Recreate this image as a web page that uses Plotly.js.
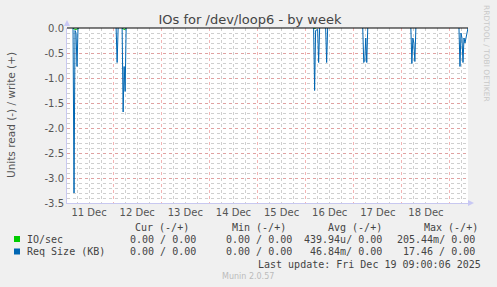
<!DOCTYPE html>
<html>
<head>
<meta charset="utf-8">
<script src="https://cdn.plot.ly/plotly-3.0.1.min.js"></script>
<style>
  html, body { margin: 0; padding: 0; background: #f0f0f0; }
  #chart { width: 497px; height: 287px; }
</style>
</head>
<body>
<div id="chart"></div>
<script>
// ---- data (null = gap between activity bursts) ----
const reqTimes = [
  '2025-12-11 04:00', '2025-12-11 04:30', '2025-12-11 05:00', '2025-12-11 05:30', '2025-12-11 06:00', '2025-12-11 06:30', null,
  '2025-12-12 01:30', '2025-12-12 02:00', '2025-12-12 02:30', null,
  '2025-12-12 04:30', '2025-12-12 05:00', '2025-12-12 05:30', '2025-12-12 06:00', '2025-12-12 06:30', null,
  '2025-12-16 04:00', '2025-12-16 04:30', '2025-12-16 05:00', '2025-12-16 05:30', '2025-12-16 06:00', '2025-12-16 06:30', '2025-12-16 07:00', null,
  '2025-12-16 10:00', '2025-12-16 10:30', '2025-12-16 11:00', null,
  '2025-12-17 04:30', '2025-12-17 05:00', '2025-12-17 05:30', '2025-12-17 06:00', '2025-12-17 06:30', '2025-12-17 07:00', null,
  '2025-12-18 04:30', '2025-12-18 05:00', '2025-12-18 05:30', '2025-12-18 06:00', '2025-12-18 06:30', '2025-12-18 07:00', null,
  '2025-12-19 04:30', '2025-12-19 05:00', '2025-12-19 05:30', '2025-12-19 06:00', '2025-12-19 06:30', '2025-12-19 07:00',
  '2025-12-19 07:30', '2025-12-19 08:00', '2025-12-19 08:30', '2025-12-19 09:00'
];
const reqValues = [
  0, -3.3, -0.05, -0.1, -0.77, 0, null,
  0, -0.69, 0, null,
  0, -1.68, -0.77, -1.27, 0, null,
  0, -1.25, -0.05, -0.03, -0.03, -0.69, 0, null,
  0, -0.69, 0, null,
  0, -0.69, -0.67, -0.2, -0.69, 0, null,
  0, -0.71, -0.2, -0.3, -0.67, 0, null,
  0, -0.77, -0.1, -0.2, -0.69, -0.2,
  -0.3, -0.2, -0.05, 0
];
const ioTimes = [
  '2025-12-11 04:00', '2025-12-11 04:30', '2025-12-11 05:30', '2025-12-11 06:30', '2025-12-11 07:00', null,
  '2025-12-12 04:30', '2025-12-12 05:00', '2025-12-12 06:00', '2025-12-12 06:30', null,
  '2025-12-16 04:00', '2025-12-16 04:30', '2025-12-16 05:00'
];
const ioValues = [
  0, -0.02, -0.03, -0.02, 0, null,
  0, -0.02, -0.03, 0, null,
  0, -0.02, 0
];
const yTickVals = [0, -0.5, -1.0, -1.5, -2.0, -2.5, -3.0, -3.5];
const yTickText = ['0.0', '-0.5', '-1.0', '-1.5', '-2.0', '-2.5', '-3.0', '-3.5'];
const seriesNames = ['IO/sec', 'Req Size (KB)'];
const seriesColors = ['#00cc00', '#0066b3'];
const colHeaders = ['Cur (-/+)', 'Min (-/+)', 'Avg (-/+)', 'Max (-/+)'];
const ioStats = ['0.00 / 0.00', '0.00 / 0.00', '439.94u/ 0.00', '205.44m/ 0.00'];
const reqStats = ['0.00 / 0.00', '0.00 / 0.00', '46.84m/ 0.00', '17.46 / 0.00'];
const lastUpdate = 'Last update: Fri Dec 19 09:00:06 2025';
const xStart = '2025-12-11 01:00';
const xEnd = '2025-12-19 09:00';

// ---- layout helpers (pixel -> paper) ----
const L = 67, R = 468, T = 28, B = 203;
const px = x => (x - L) / (R - L);
const py = y => (B - y) / (B - T);

const mono = { family: 'DejaVu Sans Mono, monospace', size: 10, color: '#444' };
const ann = [];
function txt(x, y, text, anchor, font, extra) {
  ann.push(Object.assign({ xref: 'paper', yref: 'paper', x: px(x), y: py(y), text: text,
    showarrow: false, xanchor: anchor, yanchor: 'middle', font: font, borderpad: 0 }, extra || {}));
}
const headX = [134, 231, 327, 423];
colHeaders.forEach((h, i) => txt(headX[i], 227, h, 'left', mono));
const valRight = [197, 293, 383, 476];
[ioStats, reqStats].forEach((row, r) => {
  const y = r === 0 ? 239 : 251.5;
  txt(26, y, seriesNames[r], 'left', mono);
  row.forEach((v, i) => txt(valRight[i], y, v, 'right', mono));
});
txt(482, 264, lastUpdate, 'right', mono);
txt(248, 276, 'Munin 2.0.57', 'center', { family: 'DejaVu Sans, sans-serif', size: 8, color: '#bbb' });
txt(487, 53, 'RRDTOOL / TOBI OETIKER', 'center', { family: 'DejaVu Sans, sans-serif', size: 7.5, color: '#c8c8c8' }, { textangle: 90 });
txt(11, 115, 'Units read (-) / write (+)', 'center', { family: 'DejaVu Sans, sans-serif', size: 10.5, color: '#555' }, { textangle: -90 });

const shapes = [
  { type: 'line', xref: 'paper', yref: 'paper', x0: 0, x1: 1, y0: 1, y1: 1, line: { color: '#000', width: 1 }, layer: 'above' },
  { type: 'rect', xref: 'paper', yref: 'paper', x0: px(14), x1: px(20), y0: py(236), y1: py(242), fillcolor: seriesColors[0], line: { width: 0 } },
  { type: 'rect', xref: 'paper', yref: 'paper', x0: px(14), x1: px(20), y0: py(248.5), y1: py(254.5), fillcolor: seriesColors[1], line: { width: 0 } },
  { type: 'path', xref: 'paper', yref: 'paper',
    path: `M ${px(64)} ${py(26)} L ${px(70)} ${py(26)} L ${px(67)} ${py(20)} Z`, fillcolor: '#c8c8f4', line: { width: 0 } },
  { type: 'path', xref: 'paper', yref: 'paper',
    path: `M ${px(468)} ${py(200)} L ${px(468)} ${py(206)} L ${px(474)} ${py(203)} Z`, fillcolor: '#c8c8f4', line: { width: 0 } }
];

const traces = [
  { x: ioTimes, y: ioValues, type: 'scatter', mode: 'lines', name: seriesNames[0], connectgaps: false,
    line: { color: seriesColors[0], width: 1 }, hoverinfo: 'skip' },
  { x: reqTimes, y: reqValues, type: 'scatter', mode: 'lines', name: seriesNames[1], connectgaps: false,
    line: { color: seriesColors[1], width: 1 }, hoverinfo: 'skip' }
];

const majorGrid = 'rgba(235,130,130,0.6)';
const minorGrid = '#cfcfcf';
const layout = {
  width: 497, height: 287,
  paper_bgcolor: '#f0f0f0', plot_bgcolor: '#ffffff',
  margin: { l: L, r: 497 - R, t: T, b: 287 - B, pad: 0 },
  showlegend: false,
  title: { text: 'IOs for /dev/loop6 - by week', x: 250 / 497, xanchor: 'center', y: 1 - 19 / 287, yanchor: 'middle',
    font: { family: 'DejaVu Sans, sans-serif', size: 13, color: '#444' } },
  xaxis: {
    type: 'date', range: [xStart, xEnd], fixedrange: true,
    tick0: '2025-12-11 00:00', dtick: 86400000, ticklabelmode: 'period', tickformat: '%-d %b',
    showgrid: true, gridcolor: majorGrid, griddash: 'dot', gridwidth: 1,
    ticks: '', showline: true, linecolor: '#c8c8f0', linewidth: 1, zeroline: false,
    tickfont: { family: 'DejaVu Sans, sans-serif', size: 10, color: '#555' },
    minor: { dtick: 6 * 3600000, tick0: '2025-12-11 00:00', showgrid: true, gridcolor: minorGrid, griddash: 'dot', gridwidth: 1 }
  },
  yaxis: {
    range: [-3.5, 0], fixedrange: true,
    tickvals: yTickVals, ticktext: yTickText,
    showgrid: true, gridcolor: majorGrid, griddash: 'dot', gridwidth: 1,
    ticks: '', showline: true, linecolor: '#c8c8f0', linewidth: 1, zeroline: false,
    tickfont: { family: 'DejaVu Sans, sans-serif', size: 10, color: '#555' },
    minor: { dtick: 0.1, showgrid: true, gridcolor: minorGrid, griddash: 'dot', gridwidth: 1 }
  },
  annotations: ann,
  shapes: shapes
};

Plotly.newPlot('chart', traces, layout, { staticPlot: true, displayModeBar: false });
</script>
</body>
</html>
